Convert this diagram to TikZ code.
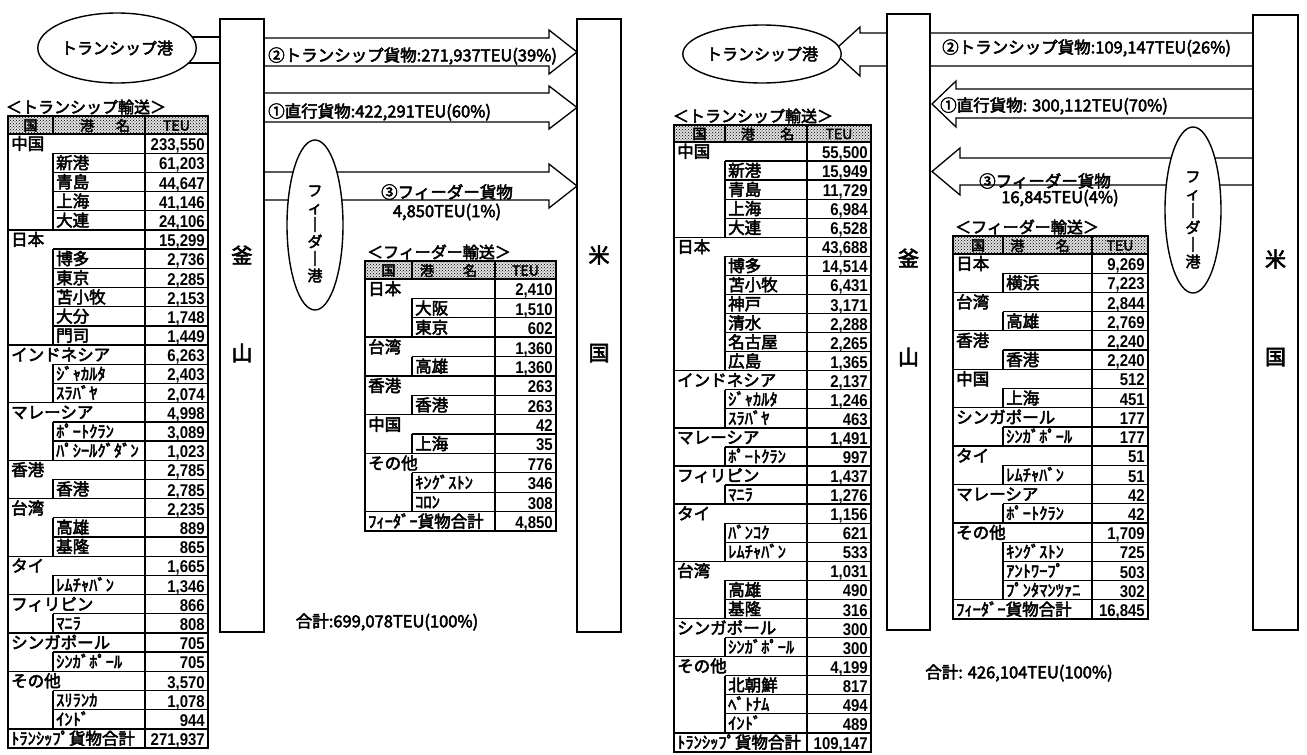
\documentclass[tikz,border=0pt]{standalone}
\usepackage{fontspec}
\setmainfont{Noto Sans CJK JP}
\newfontfamily\jpb{Noto Sans CJK JP}[FakeBold=3]
\newfontfamily\numf{Liberation Sans}[FakeStretch=0.88]
\usetikzlibrary{shapes.geometric,patterns}
\newcommand\jpt{\jpb\fontsize{16.5}{16.5}\selectfont}
\newcommand\numt{\numf\bfseries\fontsize{17}{17}\selectfont}
\newcommand\lbt{\jpb\fontsize{16.5}{16.5}\selectfont}
\newcommand\hdt{\jpb\fontsize{14}{14}\selectfont}
\tikzset{
  tl/.style={line width=1.3pt},
  tf/.style={line width=2pt},
  pillar/.style={draw, line width=1.4pt, fill=white, inner sep=0pt},
  blk/.style={draw, line width=1.3pt, line join=miter},
  ell/.style={ellipse, draw, line width=1.4pt, fill=white, inner sep=0pt},
  tx/.style={inner sep=0pt, anchor=base west, font=\jpt},
  nx/.style={inner sep=0pt, anchor=base east, font=\numt},
  hd/.style={inner sep=0pt, font=\hdt},
  lbl/.style={inner sep=0pt, font=\lbt},
  pch/.style={inner sep=0pt, font=\jpb\fontsize{21}{21}\selectfont},
  ttl/.style={inner sep=0pt, font=\jpb\fontsize{16}{16}\selectfont},
  vtx/.style={inner sep=0pt, align=center, font=\jpb\fontsize{15}{17}\selectfont},
}
\newcommand\tablebody[2]{%
  \fill[gray!25] (\TXa,\TYa) rectangle (\TXd,\TYb);
  \path[pattern=crosshatch dots] (\TXa,\TYa) rectangle (\TXd,\TYb);
  \draw[tl] (\TXb,\TYa) -- (\TXb,\TYb) (\TXc,\TYa) -- (\TXc,\TYb) (\TXa,\TYb) -- (\TXd,\TYb);
  \node[hd] (#1h1) at ({(\TXa+\TXb)/2},{(\TYa+\TYb)/2+0.5}) {国};
  \node[hd] (#1h2) at ({\TXb+\HPa*(\TXc-\TXb)},{(\TYa+\TYb)/2+0.5}) {港};
  \node[hd] (#1h3) at ({\TXb+\HPb*(\TXc-\TXb)},{(\TYa+\TYb)/2+0.5}) {名};
  \node[hd] (#1h4) at ({(\TXc+\TXd)/2},{(\TYa+\TYb)/2+0.5}) {TEU};
  \foreach \kk/\nn/\vv [count=\ii from 0] in {#2}{%
    \pgfmathsetmacro\yt{\TYb+\ii*\TH}%
    \pgfmathsetmacro\yb{\yt+\TH}%
    \if\kk p%
      \draw[tl] (\TXb,\yt) -- (\TXd,\yt) (\TXb,\yt) -- (\TXb,\yb);
      \node[tx] (#1n\ii) at ({\TXb+3},{\yb-3.5}) {\nn};
    \else
      \draw[tl] (\TXa,\yt) -- (\TXd,\yt);
      \node[tx] (#1n\ii) at ({\TXa+3},{\yb-3.5}) {\nn};
    \fi
    \node[nx] (#1v\ii) at ({\TXd-3},{\yb-2.5}) {\vv};
  }%
  \draw[tl] (\TXc,\TYb) -- (\TXc,\TBot);
  \draw[tf] (\TXa,\TYa) rectangle (\TXd,\TBot);
}
\begin{document}
\begin{tikzpicture}[x=1pt,y=-1pt]
\useasboundingbox (0,0) rectangle (1307,755);
\fill[white] (0,0) rectangle (1307,755);

%================ LEFT HALF =================
\draw[blk] (175,37) -- (220,37) (175,63) -- (220,63);
\draw[blk] (264,38) -- (549,38) -- (549,30) -- (577,52) -- (549,74) -- (549,66) -- (264,66);
\draw[blk] (264,93) -- (549,93) -- (549,86) -- (577,107.5) -- (549,129) -- (549,122) -- (264,122);
\draw[blk] (264,172) -- (549,172) -- (549,164) -- (577,186) -- (549,208) -- (549,200) -- (264,200);
\node[pillar, minimum width=44, minimum height=613] (lbp) at (242,325.5) {};
\node[pillar, minimum width=44, minimum height=613] (lup) at (599,325.5) {};
\node[pch] (lb1) at (242,255) {釜};
\node[pch] (lb2) at (242,353) {山};
\node[pch] (lu1) at (599,255) {米};
\node[pch] (lu2) at (599,353) {国};
\node[ell, minimum width=127, minimum height=70, font=\jpb\fontsize{16}{16}\selectfont] (lts) at (117,48) {トランシップ港};
\node[ell, minimum width=56, minimum height=170] (lfd) at (315,225) {};
\node[vtx] (lfdt) at (315,234) {フ\\ィ\\｜\\ダ\\｜\\港};
\node[lbl, anchor=west] (la2) at (268,56) {②トランシップ貨物:271,937TEU(39\%)};
\node[lbl, anchor=west] (la1) at (268,112) {①直行貨物:422,291TEU(60\%)};
\node[lbl] (la3) at (447,192) {③フィーダー貨物};
\node[lbl] (la3b) at (447,212) {4,850TEU(1\%)};
\node[lbl] (lsum) at (387,622) {合計:699,078TEU(100\%)};
\node[ttl] (ltt) at (86,107) {＜トランシップ輸送＞};
\node[ttl] (lft) at (439,252) {＜フィーダー輸送＞};

\def\TXa{8}\def\TXb{53}\def\TXc{145}\def\TXd{208}
\def\TYa{116}\def\TYb{134}\def\TH{19.19}\def\TBot{748}
\def\HPa{0.37}\def\HPb{0.76}
\tablebody{LT}{c/中国/{233,550},p/新港/{61,203},p/青島/{44,647},p/上海/{41,146},p/大連/{24,106},
c/日本/{15,299},p/博多/{2,736},p/東京/{2,285},p/苫小牧/{2,153},p/大分/{1,748},p/門司/{1,449},
c/インドネシア/{6,263},p/ｼﾞｬｶﾙﾀ/{2,403},p/ｽﾗﾊﾞﾔ/{2,074},
c/マレーシア/{4,998},p/ﾎﾟｰﾄｸﾗﾝ/{3,089},p/ﾊﾟｼｰﾙｸﾞﾀﾞﾝ/{1,023},
c/香港/{2,785},p/香港/{2,785},
c/台湾/{2,235},p/高雄/{889},p/基隆/{865},
c/タイ/{1,665},p/ﾚﾑﾁｬﾊﾞﾝ/{1,346},
c/フィリピン/{866},p/ﾏﾆﾗ/{808},
c/シンガポール/{705},p/ｼﾝｶﾞﾎﾟｰﾙ/{705},
c/その他/{3,570},p/ｽﾘﾗﾝｶ/{1,078},p/ｲﾝﾄﾞ/{944},
t/ﾄﾗﾝｼｯﾌﾟ貨物合計/{271,937}}

\def\TXa{365}\def\TXb{412}\def\TXc{495}\def\TXd{556}
\def\TYa{261}\def\TYb{279}\def\TH{19.38}\def\TBot{531}
\def\HPa{0.18}\def\HPb{0.7}
\tablebody{LF}{c/日本/{2,410},p/大阪/{1,510},p/東京/{602},
c/台湾/{1,360},p/高雄/{1,360},
c/香港/{263},p/香港/{263},
c/中国/{42},p/上海/{35},
c/その他/{776},p/ｷﾝｸﾞｽﾄﾝ/{346},p/ｺﾛﾝ/{308},
t/ﾌｨｰﾀﾞｰ貨物合計/{4,850}}

%================ RIGHT HALF =================
\draw[blk] (1253,33) -- (860,33) -- (860,27) -- (833,51.5) -- (860,76) -- (860,66) -- (1253,66);
\draw[blk] (1253,89) -- (956,89) -- (956,81) -- (932,104) -- (956,127) -- (956,118) -- (1253,118);
\draw[blk] (1253,158) -- (960,158) -- (960,148) -- (932,171.5) -- (960,195) -- (960,185) -- (1253,185);
\node[pillar, minimum width=43, minimum height=616] (rbp) at (908.5,322) {};
\node[pillar, minimum width=45, minimum height=615] (rup) at (1275.5,322.5) {};
\node[pch] (rb1) at (908.5,258) {釜};
\node[pch] (rb2) at (908.5,357) {山};
\node[pch] (ru1) at (1275.5,259) {米};
\node[pch] (ru2) at (1275.5,357) {国};
\node[ell, minimum width=122, minimum height=58, font=\jpb\fontsize{16}{16}\selectfont] (rts) at (762,54) {トランシップ港};
\node[ell, minimum width=56, minimum height=166] (rfd) at (1193,210) {};
\node[vtx] (rfdt) at (1193,220) {フ\\ィ\\｜\\ダ\\｜\\港};
\node[lbl, anchor=west] (ra2) at (942,48) {②トランシップ貨物:109,147TEU(26\%)};
\node[lbl, anchor=west] (ra1) at (940,106) {①直行貨物: 300,112TEU(70\%)};
\node[lbl] (ra3) at (1045,181) {③フィーダー貨物};
\node[lbl] (ra3b) at (1060,198) {16,845TEU(4\%)};
\node[lbl] (rsum) at (1019,673) {合計: 426,104TEU(100\%)};
\node[ttl] (rtt) at (753,116) {＜トランシップ輸送＞};
\node[ttl] (rft) at (1027,227) {＜フィーダー輸送＞};

\def\TXa{674}\def\TXb{725}\def\TXc{807}\def\TXd{871}
\def\TYa{125}\def\TYb{142}\def\TH{19.06}\def\TBot{752}
\def\HPa{0.28}\def\HPb{0.76}
\tablebody{RT}{c/中国/{55,500},p/新港/{15,949},p/青島/{11,729},p/上海/{6,984},p/大連/{6,528},
c/日本/{43,688},p/博多/{14,514},p/苫小牧/{6,431},p/神戸/{3,171},p/清水/{2,288},p/名古屋/{2,265},p/広島/{1,365},
c/インドネシア/{2,137},p/ｼﾞｬｶﾙﾀ/{1,246},p/ｽﾗﾊﾞﾔ/{463},
c/マレーシア/{1,491},p/ﾎﾟｰﾄｸﾗﾝ/{997},
c/フィリピン/{1,437},p/ﾏﾆﾗ/{1,276},
c/タイ/{1,156},p/ﾊﾞﾝｺｸ/{621},p/ﾚﾑﾁｬﾊﾞﾝ/{533},
c/台湾/{1,031},p/高雄/{490},p/基隆/{316},
c/シンガポール/{300},p/ｼﾝｶﾞﾎﾟｰﾙ/{300},
c/その他/{4,199},p/北朝鮮/{817},p/ﾍﾞﾄﾅﾑ/{494},p/ｲﾝﾄﾞ/{489},
t/ﾄﾗﾝｼｯﾌﾟ貨物合計/{109,147}}

\def\TXa{953}\def\TXb{1003}\def\TXc{1092}\def\TXd{1148}
\def\TYa{236}\def\TYb{254}\def\TH{19.21}\def\TBot{619}
\def\HPa{0.16}\def\HPb{0.67}
\tablebody{RF}{c/日本/{9,269},p/横浜/{7,223},
c/台湾/{2,844},p/高雄/{2,769},
c/香港/{2,240},p/香港/{2,240},
c/中国/{512},p/上海/{451},
c/シンガポール/{177},p/ｼﾝｶﾞﾎﾟｰﾙ/{177},
c/タイ/{51},p/ﾚﾑﾁｬﾊﾞﾝ/{51},
c/マレーシア/{42},p/ﾎﾟｰﾄｸﾗﾝ/{42},
c/その他/{1,709},p/ｷﾝｸﾞｽﾄﾝ/{725},p/ｱﾝﾄﾜｰﾌﾟ/{503},p/ﾌﾟﾝﾀﾏﾝﾂｧﾆ/{302},
t/ﾌｨｰﾀﾞｰ貨物合計/{16,845}}
\end{tikzpicture}
\end{document}
